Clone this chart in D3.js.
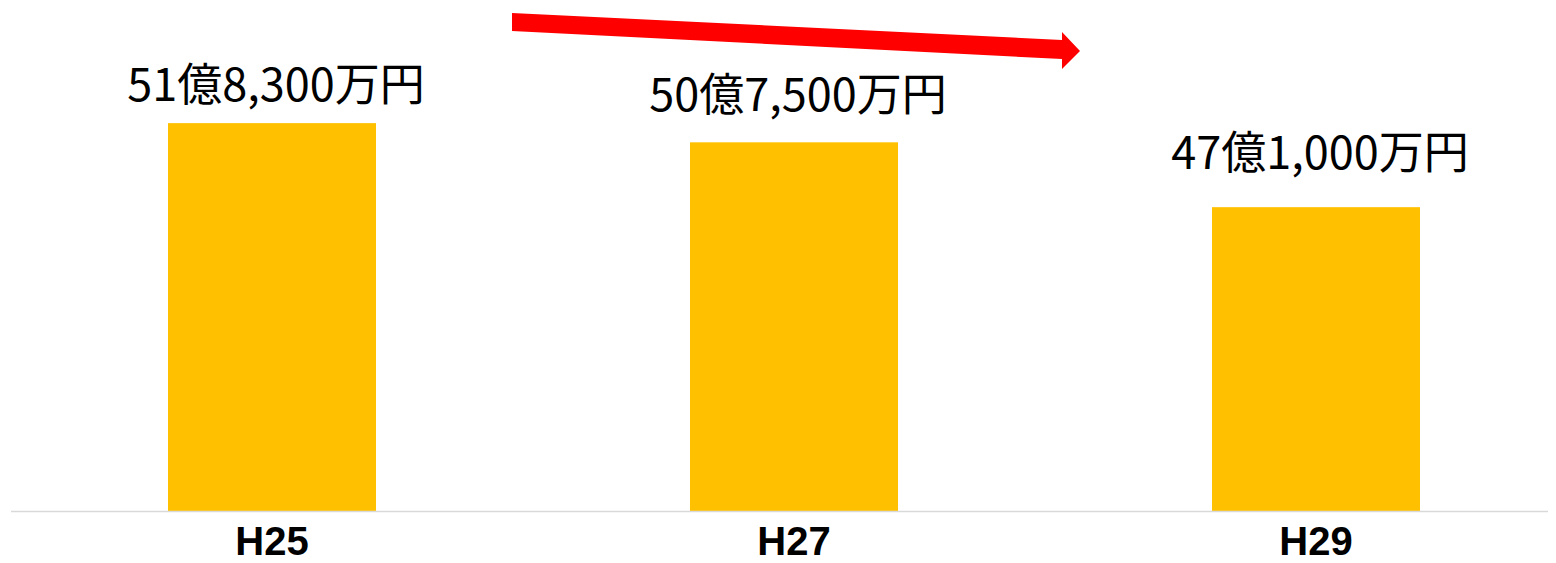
<!DOCTYPE html>
<html>
<head>
<meta charset="utf-8">
<script src="https://cdn.jsdelivr.net/npm/d3@7"></script>
<style>
  body { margin: 0; background: #fff; }
  svg { display: block; }
</style>
</head>
<body>
<div id="chart"></div>
<script>
// data
var years = ["H25", "H27", "H29"];
var values = [51.83, 50.75, 47.10];   // 億円
var labels = ["51億8,300万円", "50億7,500万円", "47億1,000万円"];

// label lift above bar top (px), placed by hand in the original
var labelLift = [22, 31, 38];

var width = 1556, height = 563;

var svg = d3.select("#chart")
  .append("svg")
    .attr("width", width)
    .attr("height", height);

var x = d3.scaleBand()
    .domain(years)
    .range([11, 1577])
    .paddingInner(0.6015)
    .paddingOuter(0.30075);

var y = d3.scaleLinear()
    .domain([30, 58])
    .range([511, 13.5]);

// bars
svg.selectAll("rect.bar")
  .data(values)
  .enter().append("rect")
    .attr("class", "bar")
    .attr("x", function(d, i) { return x(years[i]); })
    .attr("width", x.bandwidth())
    .attr("y", function(d) { return y(d); })
    .attr("height", function(d) { return y(30) - y(d); })
    .attr("fill", "#FFC000");

// baseline
svg.append("line")
    .attr("x1", 11)
    .attr("x2", 1548)
    .attr("y1", y(30) + 0.5)
    .attr("y2", y(30) + 0.5)
    .attr("stroke", "#d9d9d9")
    .attr("stroke-width", 1.5);

// x axis labels
var xAxis = svg.append("g")
    .attr("transform", "translate(0," + y(30) + ")")
    .call(d3.axisBottom(x).tickSize(0).tickPadding(0));
xAxis.select(".domain").remove();
xAxis.selectAll("text")
    .attr("dy", null)
    .attr("y", 44)
    .attr("font-family", "'Liberation Sans Narrow', 'Liberation Sans', Arial, sans-serif")
    .attr("font-weight", "bold")
    .attr("font-size", 40)
    .attr("fill", "#000");

// value labels
svg.selectAll("text.value")
  .data(values)
  .enter().append("text")
    .attr("class", "value")
    .attr("x", function(d, i) { return x(years[i]) + x.bandwidth() / 2 + 4; })
    .attr("y", function(d, i) { return y(d) - labelLift[i]; })
    .attr("text-anchor", "middle")
    .attr("font-family", "'Noto Sans CJK JP', 'Noto Sans', sans-serif")
    .attr("font-size", 45)
    .attr("fill", "#000")
    .text(function(d, i) { return labels[i]; });

// trend arrow (decorative)
svg.append("path")
    .attr("d", "M512,13 L1062,40 L1062,32 L1080,51 L1062,69 L1062,59 L512,31 Z")
    .attr("fill", "#FF0000");
</script>
</body>
</html>
